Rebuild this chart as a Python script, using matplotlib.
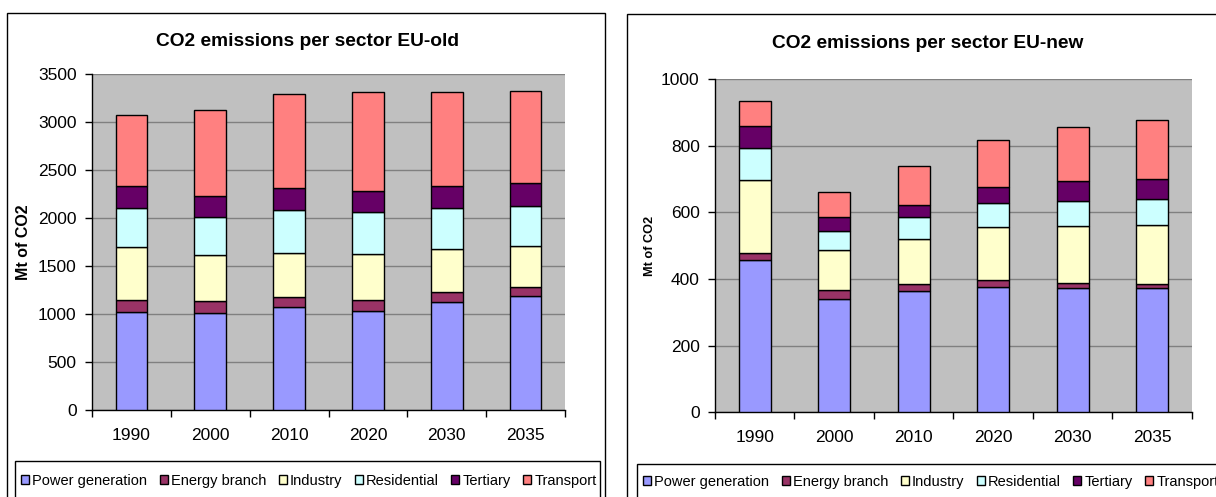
import matplotlib
matplotlib.use("Agg")
import matplotlib.pyplot as plt
from matplotlib.patches import Rectangle
from matplotlib.ticker import FixedLocator, NullFormatter
import numpy as np

plt.rcParams['font.family'] = ['Liberation Sans', 'DejaVu Sans']

years = ["1990", "2000", "2010", "2020", "2030", "2035"]
sectors = ["Power generation", "Energy branch", "Industry", "Residential", "Tertiary", "Transport"]
colors = ["#9999FF", "#993366", "#FFFFCC", "#CCFFFF", "#660066", "#FF8080"]

# EU-old, Mt of CO2 per sector
old_power = [1021, 1010, 1070, 1035, 1128, 1188]
old_energy = [122, 129, 107, 107, 98, 90]
old_industry = [555, 472, 462, 480, 448, 430]
old_residential = [409, 396, 444, 437, 430, 420]
old_tertiary = [230, 219, 226, 226, 233, 233]
old_transport = [733, 902, 986, 1024, 972, 962]

# EU-new, Mt of CO2 per sector
new_power = [456, 339, 363, 377, 374, 374]
new_energy = [23, 27, 21, 21, 13, 11]
new_industry = [218, 120, 137, 158, 172, 177]
new_residential = [98, 59, 64, 73, 76, 79]
new_tertiary = [65, 40, 38, 48, 59, 60]
new_transport = [74, 77, 117, 142, 164, 177]

W, H = 1216, 497
fig = plt.figure(figsize=(W / 100, H / 100), dpi=100)


def fx(px):
    return px / W


def fy(py):
    return 1 - py / H


def panel(rect, series, title, title_xy, ymax, ystep, ylabel_size, ylabel_x,
          frame, legend_frame, legend_x, legend_y):
    # chart area frame and legend frame
    fig.add_artist(Rectangle((fx(frame[0]), fy(frame[3])), fx(frame[2] - frame[0]),
                             fy(frame[1]) - fy(frame[3]), transform=fig.transFigure,
                             fill=False, edgecolor="black", lw=1.0, zorder=0))
    fig.add_artist(Rectangle((fx(legend_frame[0]), fy(legend_frame[3])),
                             fx(legend_frame[2] - legend_frame[0]),
                             fy(legend_frame[1]) - fy(legend_frame[3]),
                             transform=fig.transFigure, fill=False,
                             edgecolor="black", lw=1.0, zorder=0))

    ax = fig.add_axes(rect)
    ax.set_facecolor("#C0C0C0")
    x = np.arange(len(years))
    bottom = np.zeros(len(years))
    handles = []
    for vals, col, name in zip(series, colors, sectors):
        b = ax.bar(x, vals, 0.4, bottom=bottom, color=col, edgecolor="black",
                   linewidth=1.0, label=name, zorder=3)
        handles.append(b)
        bottom += np.array(vals)

    ax.set_xlim(-0.5, len(years) - 0.5)
    ax.set_ylim(0, ymax)
    ax.set_yticks(np.arange(0, ymax + 1, ystep))
    ax.yaxis.grid(True, color="#808080", lw=1.0, zorder=0)
    ax.set_axisbelow(True)
    for s in ("top", "right"):
        ax.spines[s].set_visible(False)
    for s in ("left", "bottom"):
        ax.spines[s].set_color("black")
        ax.spines[s].set_linewidth(1.0)

    ax.xaxis.set_major_locator(FixedLocator(np.arange(-0.5, len(years), 1.0)))
    ax.xaxis.set_major_formatter(NullFormatter())
    ax.xaxis.set_minor_locator(FixedLocator(x))
    ax.set_xticklabels(years, minor=True)
    ax.tick_params(axis="x", which="major", direction="out", length=5, width=1)
    ax.tick_params(axis="x", which="minor", length=0, pad=13, labelsize=12.5)
    ax.tick_params(axis="y", direction="out", length=5, width=1, labelsize=12.5, pad=6)

    fig.text(fx(title_xy[0]), fy(title_xy[1]), title, ha="center", va="center",
             fontsize=13.8, fontweight="bold")
    fig.text(fx(ylabel_x), rect[1] + rect[3] / 2, "Mt of CO2", rotation=90,
             ha="center", va="center", fontsize=ylabel_size, fontweight="bold")

    fig.legend(handles=handles, labels=sectors, ncol=6, frameon=False,
               loc="center left", bbox_to_anchor=(fx(legend_x), fy(legend_y)),
               fontsize=10.5, handlelength=0.55, handleheight=0.55,
               handletextpad=0.2, columnspacing=0.87, borderpad=0, borderaxespad=0)
    return ax


panel([fx(92), fy(410), fx(565 - 92), fy(74) - fy(410)],
      [old_power, old_energy, old_industry, old_residential, old_tertiary, old_transport],
      "CO2 emissions per sector EU-old", (307, 42), 3500, 500, 11.5, 24,
      frame=(7, 13, 605, 520), legend_frame=(15, 461, 600, 520),
      legend_x=21, legend_y=481)

panel([fx(715), fy(412.3), fx(1192 - 715), fy(79.3) - fy(412.3)],
      [new_power, new_energy, new_industry, new_residential, new_tertiary, new_transport],
      "CO2 emissions per sector EU-new", (928, 44), 1000, 200, 9.2, 650,
      frame=(627, 14, 1300, 520), legend_frame=(637, 464, 1300, 520),
      legend_x=643, legend_y=482)

fig.savefig("out.png", dpi=100)
